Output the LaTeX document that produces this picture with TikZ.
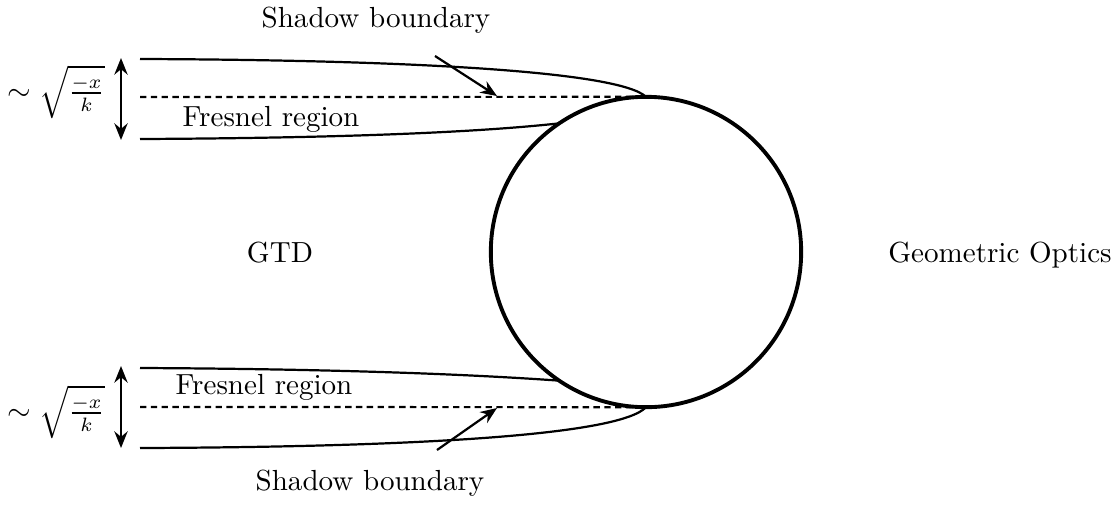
\documentclass[tikz,border=0pt]{standalone}
\usepackage{amsmath,amssymb}
\usetikzlibrary{arrows.meta}
\begin{document}
\begin{tikzpicture}[x=0.0127cm,y=-0.0127cm,thick,>={Stealth[length=6pt,width=4.8pt]},
    font=\fontsize{10.5}{13}\selectfont,
    sbline/.style={dash pattern=on 2.3pt off 1.6pt}]
    \useasboundingbox (0,0) rectangle (1120,504);
    % scatterer
    \node[circle,draw,line width=1.4pt,minimum size=3.94cm,inner sep=0pt,outer sep=0pt] (obj) at (646,252) {};
    % upper boundary layer
    \coordinate (ua) at (140,59);
    \coordinate (ub) at (140,139);
    \coordinate (us) at (140,97);
    \draw (ua) .. controls (420,60) and (620,72) .. (obj.north);
    \draw (ub) .. controls (350,138) and (480,132) .. (obj.124);
    \draw[sbline] (us) -- (obj.north);
    % lower boundary layer
    \coordinate (la) at (140,368);
    \coordinate (lb) at (140,448);
    \coordinate (ls) at (140,407);
    \draw (lb) .. controls (420,447) and (620,435) .. (obj.south);
    \draw (la) .. controls (350,369) and (480,375) .. (obj.236);
    \draw[sbline] (ls) -- (obj.south);
    % widths
    \coordinate (wu1) at (121,58);
    \coordinate (wu2) at (121,140);
    \coordinate (wl1) at (121,366);
    \coordinate (wl2) at (121,448);
    \draw[<->] (wu1) -- (wu2);
    \draw[<->] (wl1) -- (wl2);
    \node (widthu) at (56,92) {$\sim\sqrt{\frac{-x}{k}}$};
    \node (widthl) at (56,412) {$\sim\sqrt{\frac{-x}{k}}$};
    % labels
    \node (sbu) at (376,20) {Shadow boundary};
    \node (sbl) at (370,483) {Shadow boundary};
    \node (fru) at (271,119) {Fresnel region};
    \node (frl) at (264,387) {Fresnel region};
    \node (gtd) at (280,253) {GTD};
    \node (go) at (1000,255) {Geometric Optics};
    \coordinate (sbut) at (435,56);
    \coordinate (sbuh) at (497,96);
    \coordinate (sblt) at (437,450);
    \coordinate (sblh) at (497,408);
    \draw[->] (sbut) -- (sbuh);
    \draw[->] (sblt) -- (sblh);
\end{tikzpicture}
\end{document}
